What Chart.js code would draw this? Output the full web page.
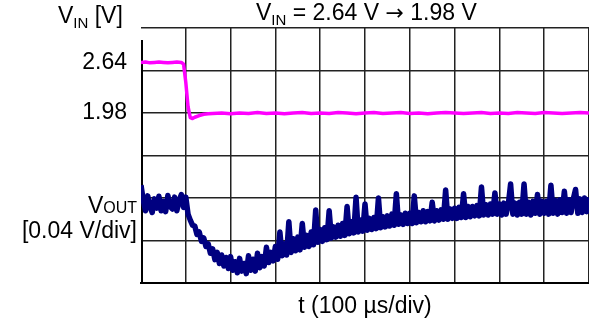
<!DOCTYPE html>
<html>
<head>
<meta charset="utf-8">
<script src="https://cdn.jsdelivr.net/npm/chart.js"></script>
<style>
  body { margin: 0; background: #fff; }
  canvas { display: block; }
</style>
</head>
<body>
<canvas id="myChart" width="589" height="320"></canvas>
<script>
// scope screen: 10 time divisions x 6 vertical divisions
const xDivisions = 10;
const yDivisions = 6;

// V_IN trace (in divisions)
const vinTime = [0, 0.1, 0.2, 0.3, 0.4, 0.5, 0.6, 0.7, 0.8, 0.9, 0.95, 1.0, 1.05, 1.1, 1.15, 1.2, 1.3, 1.4, 1.5,
  1.6, 1.8, 2.0, 2.2, 2.4, 2.6, 2.8, 3.0, 3.2, 3.4, 3.6, 3.8, 4.0, 4.2, 4.4, 4.6, 4.8, 5.0, 5.2, 5.4, 5.6, 5.8,
  6.0, 6.2, 6.4, 6.6, 6.8, 7.0, 7.2, 7.4, 7.6, 7.8, 8.0, 8.2, 8.4, 8.6, 8.8, 9.0, 9.2, 9.4, 9.6, 9.8, 10.0];
const vinValue = [5.19, 5.20, 5.18, 5.19, 5.20, 5.19, 5.18, 5.19, 5.20, 5.19, 5.15, 4.72, 4.15, 3.89, 3.87, 3.90, 3.94, 3.97, 3.98,
  3.99, 4.00, 3.98, 4.00, 3.99, 4.01, 3.99, 4.00, 3.98, 4.00, 4.01, 3.99, 4.00, 3.99, 4.01, 4.00, 3.98, 4.00, 4.01, 3.99,
  4.00, 4.01, 3.99, 4.00, 3.98, 4.00, 4.01, 4.00, 3.99, 4.00, 4.01, 3.99, 4.00, 3.99, 4.01, 4.00, 3.99, 4.01, 4.00, 3.99, 4.00, 4.01, 4.00];

// V_OUT trace (in divisions), one sample every 0.05 div
const voutStep = 0.05;
const voutValue = [
  2.30, 1.95, 1.70, 2.05, 1.80, 1.66, 1.98, 1.76, 2.04, 1.70,
  1.92, 1.68, 2.06, 1.80, 1.74, 2.02, 1.70, 1.94, 2.08, 1.78,
  2.02, 1.62, 1.48, 1.36, 1.34, 1.14, 1.20, 0.98, 1.06, 0.86,
  0.92, 0.70, 0.80, 0.55, 0.72, 0.46, 0.66, 0.40, 0.60, 0.34,
  0.62, 0.30, 0.50, 0.24, 0.58, 0.28, 0.46, 0.22, 0.64, 0.30,
  0.56, 0.28, 0.70, 0.36, 0.62, 0.40, 0.84, 0.48, 0.72, 0.52,
  0.86, 0.56, 1.20, 0.64, 0.92, 0.66, 1.44, 0.72, 1.04, 0.76,
  1.08, 0.78, 1.40, 0.84, 1.12, 0.86, 1.20, 0.90, 1.72, 0.96,
  1.26, 0.98, 1.30, 1.02, 1.70, 1.06, 1.32, 1.08, 1.36, 1.10,
  1.40, 1.12, 1.80, 1.16, 1.44, 1.18, 2.02, 1.20, 1.48, 1.22,
  1.86, 1.24, 1.52, 1.26, 1.54, 1.28, 2.00, 1.30, 1.56, 1.32,
  1.58, 1.34, 1.62, 1.36, 2.10, 1.38, 1.60, 1.38, 1.64, 1.40,
  1.64, 1.40, 2.05, 1.42, 1.66, 1.44, 1.70, 1.44, 1.68, 1.46,
  1.90, 1.46, 1.70, 1.48, 1.72, 1.50, 2.19, 1.50, 1.74, 1.52,
  1.76, 1.52, 1.78, 1.54, 2.10, 1.54, 1.80, 1.56, 1.80, 1.58,
  1.82, 1.58, 2.26, 1.60, 1.84, 1.60, 1.86, 1.62, 2.12, 1.62,
  1.86, 1.60, 1.88, 1.62, 1.86, 2.33, 1.62, 1.88, 1.60, 1.90,
  1.62, 2.33, 1.62, 1.90, 1.60, 1.92, 1.64, 2.08, 1.62, 1.92,
  1.64, 1.92, 1.62, 2.30, 1.64, 1.94, 1.62, 1.96, 1.66, 2.16,
  1.64, 1.96, 1.66, 1.98, 2.20, 1.64, 1.98, 1.66, 2.00, 1.68,
  2.02
];

// left labels: "2.64" sits on the V_IN high level, "1.98" on the 4th line
const vinHighLevel = 5.19;
const yTickValues = [0, 1, 2, 3, 4, 5, vinHighLevel, 6];
const yTickLabels = { 4: '1.98' };
yTickLabels[vinHighLevel] = '2.64';

const FONT = "'Liberation Sans', Arial, sans-serif";
const ARROW_FONT = "'DejaVu Sans', sans-serif";
const GRID = '#222';

// draws text with subscript parts: parts = [[text, size, dy, family], ...]
function drawParts(ctx, parts, x, y, align) {
  const fontOf = p => p[1] + 'px ' + (p[3] || FONT);
  let total = 0;
  parts.forEach(p => { ctx.font = fontOf(p); total += ctx.measureText(p[0]).width; });
  let cx = align === 'right' ? x - total : x;
  ctx.textAlign = 'left';
  ctx.textBaseline = 'alphabetic';
  parts.forEach(p => {
    ctx.font = fontOf(p);
    ctx.fillText(p[0], cx, y + (p[2] || 0));
    cx += ctx.measureText(p[0]).width;
  });
}

const scopeText = {
  id: 'scopeText',
  beforeDatasetsDraw(chart) {
    // left axis line, it stops a bit under the top frame
    const { ctx, chartArea, scales } = chart;
    ctx.save();
    ctx.strokeStyle = '#000';
    ctx.lineWidth = 2;
    ctx.beginPath();
    ctx.moveTo(chartArea.left + 1, scales.y.getPixelForValue(5.72));
    ctx.lineTo(chartArea.left + 1, chartArea.bottom);
    ctx.stroke();
    ctx.restore();
  },
  afterDraw(chart) {
    const ctx = chart.ctx;
    ctx.save();
    ctx.fillStyle = '#000';
    drawParts(ctx, [['V', 23], ['IN', 15, 5], [' = 2.64 V ', 23], ['\u2192', 22, 0, ARROW_FONT], [' 1.98 V', 23]], 256, 20, 'left');
    drawParts(ctx, [['V', 23], ['IN', 15, 5], [' [V]', 23]], 58, 23, 'left');
    drawParts(ctx, [['V', 23], ['OUT', 16]], 137, 213, 'right');
    drawParts(ctx, [['[0.04 V/div]', 23]], 137, 238, 'right');
    ctx.restore();
  }
};

const ctx = document.getElementById('myChart').getContext('2d');
const myChart = new Chart(ctx, {
  type: 'line',
  data: {
    datasets: [{
      label: 'VIN',
      data: vinTime.map((t, i) => ({ x: t, y: vinValue[i] })),
      borderColor: '#ff00ff',
      borderWidth: 3.5,
      borderJoinStyle: 'round',
      pointRadius: 0,
      tension: 0
    }, {
      label: 'VOUT',
      data: voutValue.map((v, i) => ({ x: i * voutStep, y: v })),
      borderColor: '#000080',
      borderWidth: 5.5,
      borderJoinStyle: 'round',
      pointRadius: 0,
      tension: 0
    }]
  },
  options: {
    responsive: false,
    animation: false,
    devicePixelRatio: 1,
    layout: { padding: { top: 28, right: 0, left: 0, bottom: 0 } },
    plugins: {
      legend: { display: false },
      tooltip: { enabled: false },
      title: { display: false }
    },
    scales: {
      x: {
        type: 'linear',
        min: 0,
        max: xDivisions,
        ticks: { display: false, stepSize: 1 },
        grid: {
          color: c => (c.tick && c.tick.value === 0 ? 'rgba(0,0,0,0)' : GRID),
          lineWidth: 1.5,
          drawTicks: false
        },
        border: { display: true, color: '#000', width: 2 },
        title: {
          display: true,
          text: 't (100 \u00b5s/div)',
          color: '#000',
          font: { family: FONT, size: 23 },
          padding: { top: 0, bottom: 0 }
        },
        afterFit: scale => { scale.height = 37; }
      },
      y: {
        min: 0,
        max: yDivisions,
        afterBuildTicks: axis => { axis.ticks = yTickValues.map(v => ({ value: v })); },
        ticks: {
          autoSkip: false,
          padding: 14,
          color: '#000',
          font: { family: FONT, size: 23 },
          callback: v => yTickLabels[v] || ''
        },
        grid: {
          color: c => (c.tick && c.tick.value === vinHighLevel ? 'rgba(0,0,0,0)' : GRID),
          lineWidth: 1.5,
          drawTicks: false
        },
        border: { display: false },
        afterFit: scale => { scale.width = 141; }
      }
    }
  },
  plugins: [scopeText]
});
</script>
</body>
</html>
